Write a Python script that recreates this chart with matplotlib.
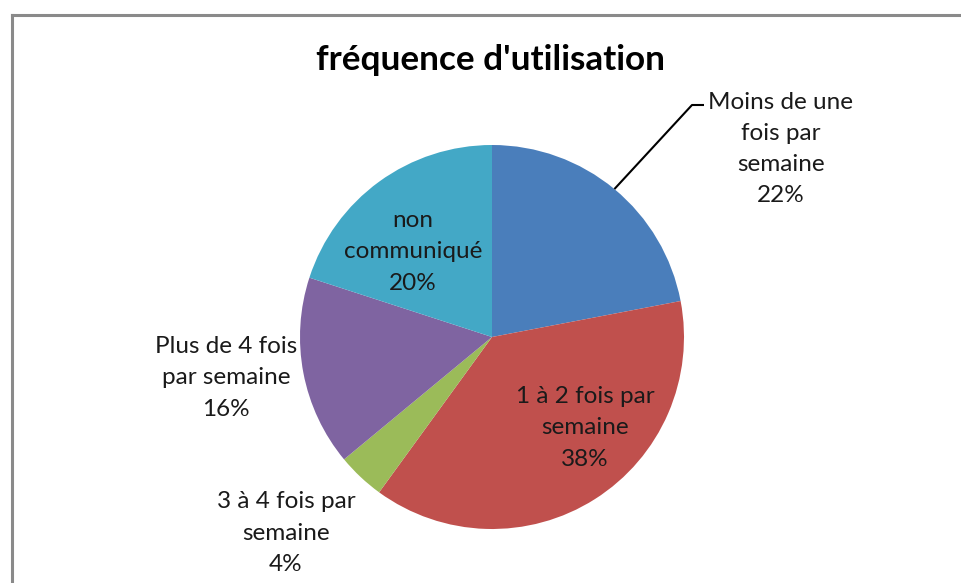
import numpy as np
import matplotlib
matplotlib.use("Agg")
import matplotlib.pyplot as plt
from matplotlib.lines import Line2D

# data
categories = ["Moins de une\nfois par\nsemaine", "1 à 2 fois par\nsemaine", "3 à 4 fois par\nsemaine",
              "Plus de 4 fois\npar semaine", "non\ncommuniqué"]
values = [22, 38, 4, 16, 20]
colors = ["#4A7EBB", "#C0504D", "#9BBB59", "#7F64A1", "#43A8C6"]
title = "fréquence d'utilisation"

# layout (pixels, origin top-left)
W, H = 961, 583
cx, cy, r = 492, 337, 192
label_pos = [(781, 149), (585, 428), (286, 533), (226, 378), (413, 252)]

plt.rcParams['font.family'] = ['Lato', 'DejaVu Sans']

fig = plt.figure(figsize=(W / 100, H / 100), dpi=100)
ax = fig.add_axes([0, 0, 1, 1])

wedges, _ = ax.pie(values, colors=colors, startangle=90, counterclock=False,
                   center=(cx, H - cy), radius=r,
                   wedgeprops=dict(linewidth=0))
ax.set_xlim(0, W)
ax.set_ylim(0, H)
ax.set_frame_on(False)
ax.axis("off")

total = sum(values)
for cat, v, (lx, ly) in zip(categories, values, label_pos):
    pct = round(100 * v / total)
    ax.text(lx, H - ly, f"{cat}\n{pct}%", ha="center", va="center",
            fontsize=17.5, color="#1a1a1a", linespacing=1.6)

# leader line for the first slice
w0 = wedges[0]
mid = np.deg2rad((w0.theta1 + w0.theta2) / 2)
ex, ey = cx + r * np.cos(mid), (H - cy) + r * np.sin(mid)
ax.plot([ex, 692, 704], [ey, H - 105, H - 105], color="black", lw=1.5,
        solid_capstyle="butt")

ax.text(491, H - 60, title, ha="center", va="center", fontsize=25.3,
        fontweight="bold", color="black")

# chart border (cropped on right and bottom)
bx, by = 12 / W, 1 - 14.5 / H
fig.add_artist(Line2D([bx, bx], [-0.05, by], transform=fig.transFigure,
                      color="#8A8A8A", lw=2.2, solid_capstyle="projecting"))
fig.add_artist(Line2D([bx, 1.05], [by, by], transform=fig.transFigure,
                      color="#8A8A8A", lw=2.2, solid_capstyle="projecting"))

fig.savefig("out.png", dpi=100)
